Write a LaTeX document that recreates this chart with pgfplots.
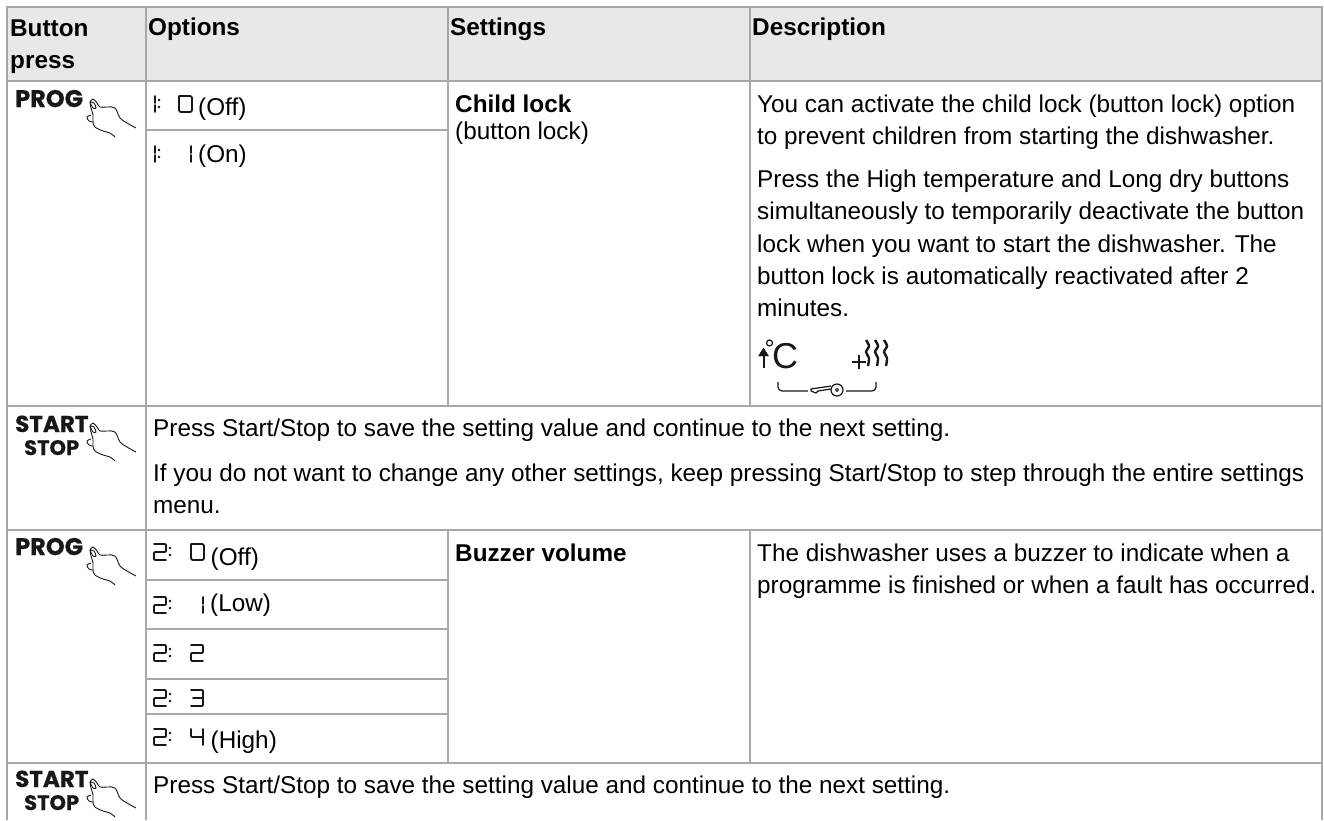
\documentclass[border=0pt]{standalone}
\usepackage{pgfplots}
\pgfplotsset{compat=1.18}
\usepackage{fontspec}
\setmainfont{Liberation Sans}
\newfontfamily\btn[BoldFeatures={FakeBold=0.6}]{Poppins}
\definecolor{gridc}{HTML}{A6A8AB}
\definecolor{head}{HTML}{E8E8E8}
\definecolor{ink}{HTML}{1A1718}
\newcommand{\fs}{\fontsize{24.3}{27}\selectfont}
\newcommand{\T}[3]{\node[anchor=base west,inner sep=0pt,text=black] at (axis cs:#1,#2) {\fs #3};}
\newcommand{\B}[3]{\node[anchor=base west,inner sep=0pt,text=ink] at (axis cs:#1,#2) {\btn\bfseries #3};}
\newcommand{\HL}[3]{\addplot[color=gridc,line width=2pt] coordinates {(#1,#3) (#2,#3)};}
\newcommand{\VL}[3]{\addplot[color=gridc,line width=2pt] coordinates {(#1,#2) (#1,#3)};}
\pgfplotsset{seg/.style={ink,line width=1.8pt,line cap=round,line join=round},
  hnd/.style={ink,line width=0.9pt,smooth,tension=0.6}}
\newcommand{\DgZ}[2]{\addplot[seg,xshift=#1pt,yshift=-#2pt,rounded corners=2pt] coordinates {(0,0) (13,0) (13,16) (0,16) (0,0)};}
\newcommand{\DgO}[2]{\addplot[seg,xshift=#1pt,yshift=-#2pt] coordinates {(0,0) (0,7)};\addplot[seg,xshift=#1pt,yshift=-#2pt] coordinates {(0,9) (0,16)};}
\newcommand{\DgT}[2]{\addplot[seg,xshift=#1pt,yshift=-#2pt,rounded corners=1pt] coordinates {(0,0) (12,0) (12,8) (0,8) (0,16) (12,16)};}
\newcommand{\DgH}[2]{\addplot[seg,xshift=#1pt,yshift=-#2pt,rounded corners=1pt] coordinates {(0,0) (12,0) (12,16) (0,16)};\addplot[seg,xshift=#1pt,yshift=-#2pt] coordinates {(2,8) (12,8)};}
\newcommand{\DgF}[2]{\addplot[seg,xshift=#1pt,yshift=-#2pt,rounded corners=1pt] coordinates {(0,0) (0,8) (12,8)};\addplot[seg,xshift=#1pt,yshift=-#2pt] coordinates {(12,0) (12,16)};}
\newcommand{\CL}[2]{\addplot[only marks,mark=*,mark size=1pt,ink,xshift=#1pt,yshift=-#2pt] coordinates {(0,4) (0,11)};}
\newcommand{\HAND}[2]{%
\addplot[hnd,xshift=#1pt,yshift=-#2pt] coordinates {(90,102) (93,99) (97,103) (100,107) (107,107) (115,108) (120,118) (127,123) (136,128)};
\addplot[hnd,xshift=#1pt,yshift=-#2pt] coordinates {(90,102) (91,108) (93,115) (93,122) (95,127) (103,131) (110,133) (115,137)};
\addplot[hnd,xshift=#1pt,yshift=-#2pt] coordinates {(91,115) (87,117) (89,121) (93,122)};
\addplot[hnd,xshift=#1pt,yshift=-#2pt] coordinates {(90,102) (94,103) (96,108) (93,108) (90,102)};}
\begin{document}
\begin{tikzpicture}
\begin{axis}[width=1324pt,height=820pt,scale only axis,xmin=0,xmax=1324,ymin=0,ymax=820,
  y dir=reverse,hide axis,clip=true]
\addplot[fill=white,draw=none] coordinates {(0,0) (1324,0) (1324,820) (0,820)} \closedcycle;
\addplot[fill=head,draw=none] coordinates {(7,7) (1322,7) (1322,81) (7,81)} \closedcycle;
% grid
\HL{7}{1322}{7}
\HL{7}{1322}{81}
\HL{145.5}{447.5}{130}
\HL{7}{1322}{406}
\HL{7}{1322}{530}
\HL{145.5}{447.5}{580}
\HL{145.5}{447.5}{629}
\HL{145.5}{447.5}{679}
\HL{145.5}{447.5}{714}
\HL{7}{1322}{763}
\VL{7}{6}{820}
\VL{1322}{6}{820}
\VL{145.5}{6}{820}
\VL{447.5}{6}{406}
\VL{750}{6}{406}
\VL{447.5}{530}{763}
\VL{750}{530}{763}
% header
\T{10}{36}{\bfseries Button}
\T{10}{68}{\bfseries press}
\T{148}{35}{\bfseries Options}
\T{450}{35}{\bfseries Settings}
\T{752}{35}{\bfseries Description}
% buttons
\B{15}{107}{\fontsize{24}{24}\selectfont PROG}
\B{15}{432}{\fontsize{23}{23}\selectfont START}
\B{24}{455}{\fontsize{21}{21}\selectfont STOP}
\B{15}{555}{\fontsize{24}{24}\selectfont PROG}
\B{15}{787}{\fontsize{23}{23}\selectfont START}
\B{24}{810}{\fontsize{21}{21}\selectfont STOP}
\HAND{0}{0}
\HAND{0}{324}
\HAND{0}{448}
\HAND{0}{680}
% options
\DgO{155}{96}\CL{159}{96}\DgZ{179}{96}\T{198}{115}{(Off)}
\DgO{155}{146}\CL{159}{146}\DgO{191}{146}\T{198}{162}{(On)}
\DgT{154}{544}\CL{170}{544}\DgZ{191}{544}\T{210.5}{565}{(Off)}
\DgT{154}{597}\CL{170}{597}\DgO{203}{597}\T{210}{611}{(Low)}
\DgT{154}{645}\CL{170}{645}\DgT{191}{645}
\DgT{154}{690}\CL{170}{690}\DgH{191}{690}
\DgT{154}{729}\CL{170}{729}\DgF{191}{729}\T{210.5}{748}{(High)}
% settings
\T{455}{112}{\bfseries Child lock}
\T{455}{139}{(button lock)}
\T{455}{561}{\bfseries Buzzer volume}
% description
\T{757}{112}{You can activate the child lock (button lock) option}
\T{757}{144}{to prevent children from starting the dishwasher.}
\T{757}{187}{Press the High temperature and Long dry buttons}
\T{757}{219}{simultaneously to temporarily deactivate the button}
\T{757}{252}{lock when you want to start the dishwasher. The}
\T{757}{284}{button lock is automatically reactivated after 2}
\T{757}{316}{minutes.}
\T{757}{561}{The dishwasher uses a buzzer to indicate when a}
\T{757}{593}{programme is finished or when a fault has occurred.}
\T{153}{436}{Press Start/Stop to save the setting value and continue to the next setting.}
\T{153}{481}{If you do not want to change any other settings, keep pressing Start/Stop to step through the entire settings}
\T{153}{513}{menu.}
\T{153}{793}{Press Start/Stop to save the setting value and continue to the next setting.}
% icons
\node[anchor=base west,inner sep=0pt,text=ink] at (axis cs:772,368) {\fontsize{36}{36}\selectfont C};
\addplot[ink,line width=2pt] coordinates {(763.5,368) (763.5,352)};
\addplot[ink,fill=ink] coordinates {(758.5,356) (763.5,348) (768.5,356) (758.5,356)};
\addplot[only marks,mark=o,mark size=3pt,ink,line width=1.2pt] coordinates {(769.5,343)};
\addplot[ink,line width=2.2pt] coordinates {(852,362) (866,362)};
\addplot[ink,line width=2.2pt] coordinates {(859,355) (859,369)};
\addplot[ink,line width=2.4pt,smooth] coordinates {(866,340) (869,346) (866,352) (869,358) (868,366)};
\addplot[ink,line width=2.4pt,smooth] coordinates {(875,340) (878,346) (875,352) (878,358) (877,366)};
\addplot[ink,line width=2.4pt,smooth] coordinates {(884,340) (887,346) (884,352) (887,358) (886,366)};
\addplot[ink,line width=1.2pt,rounded corners=4pt] coordinates {(778,382) (778,391) (808,391)};
\addplot[ink,line width=1.2pt,rounded corners=4pt] coordinates {(846,391) (876,391) (876,382)};
\addplot[ink,line width=1.2pt] coordinates {(811,391) (816,393) (818,391) (831,389)};
\addplot[ink,line width=1.2pt] coordinates {(811,391) (811,389) (831,386)};
\addplot[only marks,mark=o,mark size=6pt,ink,line width=1.2pt] coordinates {(837,390)};
\addplot[only marks,mark=o,mark size=1.5pt,ink,line width=0.8pt] coordinates {(837,390)};
\end{axis}
\end{tikzpicture}
\end{document}
